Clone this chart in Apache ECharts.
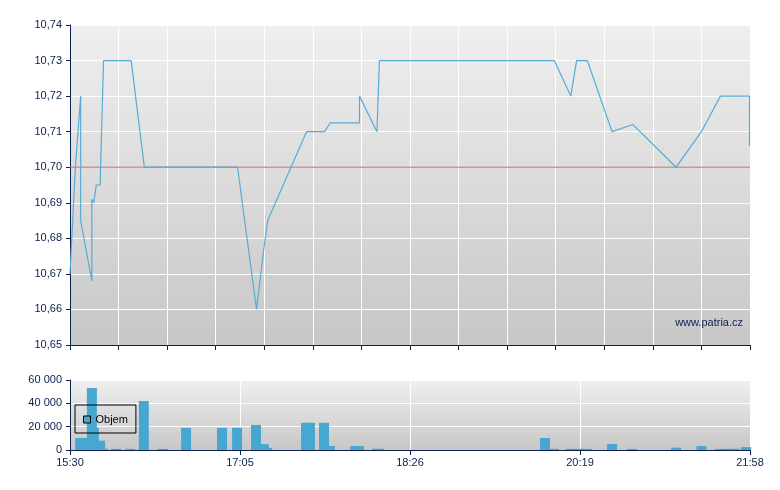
<!DOCTYPE html>
<html>
<head>
<meta charset="utf-8">
<script src="https://cdn.jsdelivr.net/npm/echarts@6/dist/echarts.min.js"></script>
<style>
html,body{margin:0;padding:0;background:#fff;}
#c{width:780px;height:490px;}
</style>
</head>
<body>
<div id="c"></div>
<script>
// x positions are in chart "slots" (0..14), as the time scale of the source chart is not linear
var timeLabels = ['15:30', '17:05', '18:26', '20:19', '21:58'];
var priceX = [0.00, 0.11, 0.22, 0.22, 0.26, 0.45, 0.45, 0.49, 0.54, 0.62, 0.69, 1.26, 1.53, 3.45, 3.84, 3.99, 4.07, 4.87, 5.24, 5.36, 5.96, 5.96, 6.32, 6.37, 9.97, 10.31, 10.43, 10.65, 11.16, 11.59, 12.48, 13.00, 13.39, 13.99, 13.99];
var priceY = [10.670, 10.700, 10.720, 10.685, 10.685, 10.668, 10.691, 10.690, 10.695, 10.695, 10.730, 10.730, 10.700, 10.700, 10.660, 10.677, 10.685, 10.710, 10.710, 10.7125, 10.7125, 10.720, 10.710, 10.730, 10.730, 10.720, 10.730, 10.730, 10.710, 10.712, 10.700, 10.710, 10.720, 10.720, 10.706];
var refPrice = 10.70;
var volX = [0.68, 0.62, 0.49, 0.21, 0.25, 0.45, 0.95, 1.24, 1.52, 1.91, 2.39, 3.13, 3.44, 4.06, 3.99, 3.83, 4.86, 4.94, 5.35, 5.23, 5.87, 5.95, 6.32, 6.36, 9.96, 9.78, 10.31, 10.50, 10.64, 11.16, 11.57, 12.48, 13.00, 13.38, 13.55, 13.69, 13.92];
var volY = [1000, 8000, 19000, 10300, 10300, 53100, 1000, 1000, 42000, 1000, 19000, 19000, 19000, 1800, 5000, 21500, 23300, 23300, 3400, 23300, 3400, 3400, 1000, 1000, 1000, 10300, 1000, 1000, 1000, 5100, 1000, 2000, 3400, 1000, 1000, 1000, 2500];
var priceTicks = ['10,65','10,66','10,67','10,68','10,69','10,70','10,71','10,72','10,73','10,74'];

var priceData = priceX.map(function (x, i) { return [x, priceY[i]]; });
var volData = volX.map(function (x, i) { return [x, volY[i]]; });
var refData = [[0, refPrice], [14, refPrice]];

var navy = '#0c1f4d';
var font = '"Liberation Sans", Arial, sans-serif';
function bg() {
  return new echarts.graphic.LinearGradient(0, 0, 0, 1, [
    { offset: 0, color: '#efefef' },
    { offset: 1, color: '#c7c7c7' }
  ]);
}

var chart = echarts.init(document.getElementById('c'), null, { renderer: 'canvas' });
chart.setOption({
  animation: false,
  textStyle: { fontFamily: font },
  grid: [
    { left: 70, right: 30, top: 25, height: 320, show: true, backgroundColor: bg(), borderWidth: 0 },
    { left: 70, right: 30, top: 380, height: 70, show: true, backgroundColor: bg(), borderWidth: 0 }
  ],
  legend: {
    data: ['Objem'],
    left: 75, top: 405,
    borderColor: '#000', borderWidth: 1, borderRadius: 0,
    padding: [9, 8, 8, 8],
    itemWidth: 7, itemHeight: 7,
    icon: 'rect',
    itemStyle: { borderColor: '#000', borderWidth: 1 },
    textStyle: { fontSize: 11, color: '#000', fontFamily: font }
  },
  xAxis: [
    {
      type: 'value', gridIndex: 0, min: 0, max: 14, interval: 1,
      axisLine: { show: true, onZero: false, lineStyle: { color: navy, width: 1 } },
      axisTick: { show: true, length: 5, lineStyle: { color: navy } },
      axisLabel: { show: false },
      splitLine: { show: true, lineStyle: { color: '#ffffff', width: 1 } }
    },
    {
      type: 'value', gridIndex: 1, min: 0, max: 14, interval: 3.5,
      axisLine: { show: true, onZero: false, lineStyle: { color: navy, width: 1 } },
      axisTick: { show: true, length: 5, lineStyle: { color: navy } },
      axisLabel: {
        color: navy, fontSize: 11, fontFamily: font, margin: 7,
        formatter: function (v) { return timeLabels[Math.round(v / 3.5)] || ''; }
      },
      splitLine: { show: true, lineStyle: { color: '#ffffff', width: 1 } }
    }
  ],
  yAxis: [
    {
      type: 'value', gridIndex: 0, min: 10.65, max: 10.74, interval: 0.01,
      axisLine: { show: true, lineStyle: { color: navy, width: 1 } },
      axisTick: { show: true, length: 4, lineStyle: { color: navy } },
      axisLabel: {
        color: navy, fontSize: 11, fontFamily: font, margin: 8,
        formatter: function (v) { return priceTicks[Math.round((v - 10.65) * 100)]; }
      },
      splitLine: { show: true, lineStyle: { color: '#ffffff', width: 1 } }
    },
    {
      type: 'value', gridIndex: 1, min: 0, max: 60000, interval: 20000,
      axisLine: { show: true, lineStyle: { color: navy, width: 1 } },
      axisTick: { show: true, length: 4, lineStyle: { color: navy } },
      axisLabel: {
        color: navy, fontSize: 11, fontFamily: font, margin: 8,
        formatter: function (v) { return String(v).replace(/\B(?=(\d{3})+(?!\d))/g, ' '); }
      },
      splitLine: { show: true, lineStyle: { color: '#ffffff', width: 1 } }
    }
  ],
  series: [
    {
      name: 'Ref', type: 'line', xAxisIndex: 0, yAxisIndex: 0,
      data: refData, showSymbol: false, symbol: 'none', silent: true,
      lineStyle: { color: '#d9625f', width: 1 },
      itemStyle: { color: '#d9625f' },
      z: 2
    },
    {
      name: 'Cena', type: 'line', xAxisIndex: 0, yAxisIndex: 0,
      data: priceData, showSymbol: false, symbol: 'none',
      lineStyle: { color: '#55acd6', width: 1.2 },
      itemStyle: { color: '#55acd6' },
      z: 3
    },
    {
      name: 'Objem', type: 'bar', xAxisIndex: 1, yAxisIndex: 1,
      data: volData, barWidth: 10, clip: true,
      itemStyle: { color: '#46a7d0' }
    }
  ],
  graphic: [
    {
      type: 'text', right: 37, top: 317,
      style: { text: 'www.patria.cz', fill: navy, font: '11px ' + font }
    }
  ]
});
</script>
</body>
</html>
